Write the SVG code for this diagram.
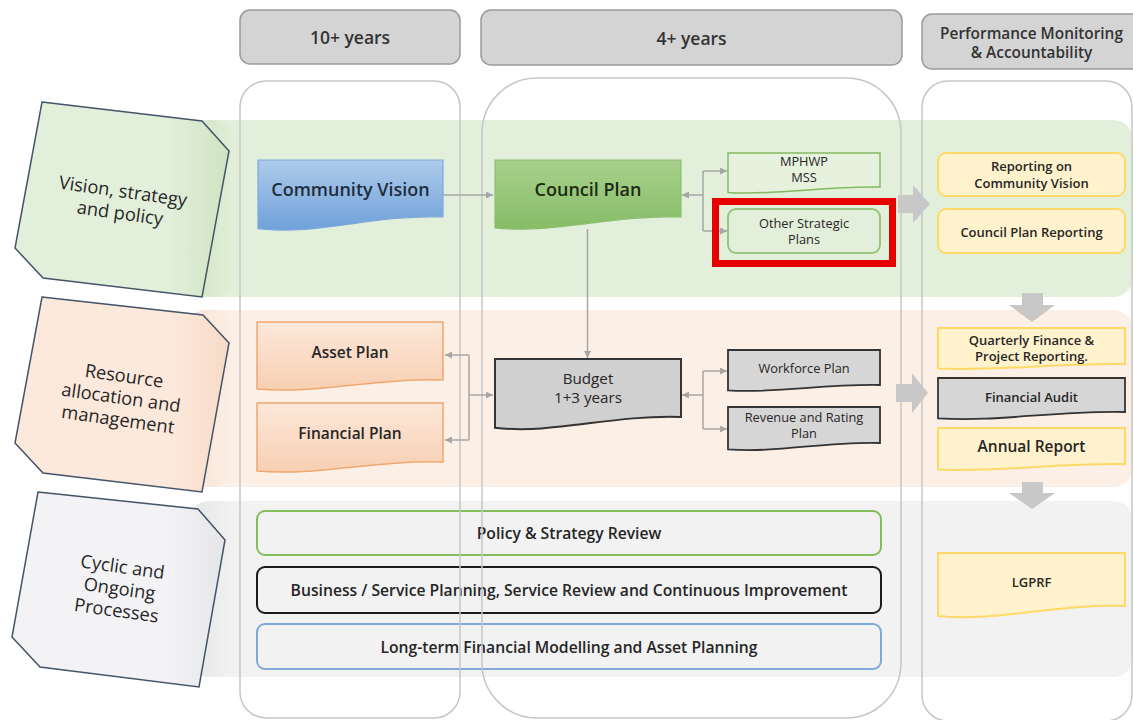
<svg xmlns="http://www.w3.org/2000/svg" width="1133" height="720" viewBox="0 0 1133 720">
<defs>
<style>
text{font-family:"Open Sans","Liberation Sans",sans-serif;fill:#262626;text-anchor:middle}
.hdr{fill:#d4d4d4;stroke:#9a9a9a;stroke-width:1.5}
.col{fill:none;stroke:#c6c6c6;stroke-width:1.5}
.lbl{stroke:#44546a;stroke-width:1.5}
.ltxt{font-size:18.3px;font-weight:400}
.htxt{font-size:17.5px;font-weight:600;fill:#333333}
.ptxt{font-size:15.4px;font-weight:600;fill:#333333}
.btxt{font-size:15.7px;font-weight:600}
.big{font-size:18px;font-weight:600}
.mid{font-size:15.5px;font-weight:600}
.sm{font-size:12.8px;font-weight:400}
.smb{font-size:13px;font-weight:600}
.yel{fill:#fff2cc;stroke:#ffd966;stroke-width:2}
.gry{fill:#d6d6d6;stroke:#333333;stroke-width:1.8}
.org{fill:url(#gOrg);stroke:#f0a870;stroke-width:1.5}
.conn{fill:none;stroke:#a6a6a6;stroke-width:1.5}
.bigarrow{fill:#c8c8c8}
</style>
<marker id="ah" viewBox="0 0 10 10" refX="10" refY="5" markerWidth="7" markerHeight="7" markerUnits="userSpaceOnUse" orient="auto"><path d="M0,0 L10,5 L0,10 z" fill="#a6a6a6"/></marker>
<linearGradient id="gCV" x1="0" y1="0" x2="0" y2="1"><stop offset="0" stop-color="#aecbeb"/><stop offset="1" stop-color="#6fa1d9"/></linearGradient>
<linearGradient id="gCP" x1="0" y1="0" x2="0" y2="1"><stop offset="0" stop-color="#a8d08d"/><stop offset="1" stop-color="#86bd66"/></linearGradient>
<linearGradient id="gOrg" x1="0" y1="0" x2="0" y2="1"><stop offset="0" stop-color="#fce8da"/><stop offset="1" stop-color="#f8cfb2"/></linearGradient>
<linearGradient id="gL1" x1="0" y1="0" x2="1" y2="0"><stop offset="0" stop-color="#e2efda"/><stop offset="0.72" stop-color="#e2efda"/><stop offset="1" stop-color="#cfe3c1"/></linearGradient>
<linearGradient id="gL2" x1="0" y1="0" x2="1" y2="0"><stop offset="0" stop-color="#fce9dc"/><stop offset="0.72" stop-color="#fce9dc"/><stop offset="1" stop-color="#f7dac6"/></linearGradient>
<linearGradient id="gL3" x1="0" y1="0" x2="1" y2="0"><stop offset="0" stop-color="#f3f3f5"/><stop offset="0.72" stop-color="#f3f3f5"/><stop offset="1" stop-color="#e6e6e8"/></linearGradient>
<linearGradient id="gB1" x1="0" y1="0" x2="1" y2="0"><stop offset="0" stop-color="#cfe3c1"/><stop offset="1" stop-color="#e2efda"/></linearGradient>
<linearGradient id="gB2" x1="0" y1="0" x2="1" y2="0"><stop offset="0" stop-color="#f7e2d4"/><stop offset="1" stop-color="#fcefe6"/></linearGradient>
<linearGradient id="gB3" x1="0" y1="0" x2="1" y2="0"><stop offset="0" stop-color="#e6e6e6"/><stop offset="1" stop-color="#f2f2f2"/></linearGradient>
</defs>
<rect width="1133" height="720" fill="#ffffff"/>

<g id="bands">
<rect x="187" y="120" width="946" height="177" rx="20" fill="#e2efda"/>
<rect x="187" y="120" width="48" height="177" rx="20" fill="url(#gB1)"/>
<rect x="186" y="310" width="947" height="177" rx="20" fill="#fcefe6"/>
<rect x="186" y="310" width="48" height="177" rx="20" fill="url(#gB2)"/>
<rect x="189" y="501" width="944" height="176" rx="20" fill="#f2f2f2"/>
<rect x="189" y="501" width="48" height="176" rx="20" fill="url(#gB3)"/>
</g>

<g id="headers">
<g id="h-10"><rect class="hdr" x="240" y="10" width="220" height="54" rx="10"/><text class="htxt" x="350" y="44">10+ years</text></g>
<g id="h-4"><rect class="hdr" x="481" y="10" width="421" height="55" rx="10"/><text class="htxt" x="691.5" y="45">4+ years</text></g>
<g id="h-perf"><rect class="hdr" x="922" y="14" width="230" height="55" rx="10"/><text class="ptxt" x="1031.5" y="38.5">Performance Monitoring</text><text class="ptxt" x="1031.5" y="57.5">&amp; Accountability</text></g>
</g>

<g id="lanes">
<g id="lane-vision">
<path class="lbl" fill="url(#gL1)" d="M42,102 L202,121 L229,151 L202,297 L43,278 L15,248 Z"/>
<g transform="translate(121.5,202) rotate(8)"><text class="ltxt" x="0" y="-4.5">Vision, strategy</text><text class="ltxt" x="0" y="17.5">and policy</text></g>
</g>
<g id="lane-resource">
<path class="lbl" fill="url(#gL2)" d="M42,297 L203,315 L229,343 L202,492 L43,473 L15,443 Z"/>
<g transform="translate(121,398) rotate(8)"><text class="ltxt" x="0" y="-16">Resource</text><text class="ltxt" x="0" y="6">allocation and</text><text class="ltxt" x="0" y="28">management</text></g>
</g>
<g id="lane-cyclic">
<path class="lbl" fill="url(#gL3)" d="M38,492 L198,509 L225,540 L199,687 L40,667 L12,637 Z"/>
<g transform="translate(119.5,589) rotate(8)"><text class="ltxt" x="0" y="-16">Cyclic and</text><text class="ltxt" x="0" y="6">Ongoing</text><text class="ltxt" x="0" y="28">Processes</text></g>
</g>
</g>

<g id="cyclic-processes">
<g id="policy-review"><rect x="257" y="511" width="624" height="44" rx="8" fill="none" stroke="#84bd5c" stroke-width="2"/><text class="btxt" x="569" y="538.5">Policy &amp; Strategy Review</text></g>
<g id="business-planning"><rect x="257" y="567" width="624" height="46" rx="8" fill="none" stroke="#1a1a1a" stroke-width="2"/><text class="btxt" x="569" y="595.5">Business / Service Planning, Service Review and Continuous Improvement</text></g>
<g id="longterm-modelling"><rect x="257" y="624" width="624" height="45" rx="8" fill="none" stroke="#7fa9d8" stroke-width="2"/><text class="btxt" x="569" y="652.5">Long-term Financial Modelling and Asset Planning</text></g>
</g>

<g id="columns">
<rect class="col" x="240" y="81" width="220" height="637" rx="26"/>
<rect class="col" x="482" y="78" width="419" height="640" rx="55"/>
<rect class="col" x="922" y="81" width="210" height="640" rx="26"/>
</g>

<g id="connectors">
<path class="conn" d="M443,195 H493" marker-end="url(#ah)"/>
<path class="conn" d="M703,195 H682" marker-end="url(#ah)"/>
<path class="conn" d="M703,171 V231"/>
<path class="conn" d="M703,171 H727" marker-end="url(#ah)"/>
<path class="conn" d="M703,231 H727" marker-end="url(#ah)"/>
<path class="conn" d="M587.5,229 V358" marker-end="url(#ah)"/>
<path class="conn" d="M469,355 V440"/>
<path class="conn" d="M469,355 H445" marker-end="url(#ah)"/>
<path class="conn" d="M469,440 H445" marker-end="url(#ah)"/>
<path class="conn" d="M469,395 H493" marker-end="url(#ah)"/>
<path class="conn" d="M703,395 H682" marker-end="url(#ah)"/>
<path class="conn" d="M703,371 V429"/>
<path class="conn" d="M703,371 H727" marker-end="url(#ah)"/>
<path class="conn" d="M703,429 H727" marker-end="url(#ah)"/>
<path class="bigarrow" d="M898,195 H913 V185 L930,204 L913,223 V213 H898 Z"/>
<path class="bigarrow" d="M896,384 H912 V373 L928,393 L912,413 V402 H896 Z"/>
<path class="bigarrow" d="M1022,293 H1043 V305 H1055 L1032,322 L1009,305 H1022 Z"/>
<path class="bigarrow" d="M1022,482 H1043 V493 H1055 L1032,509 L1009,493 H1022 Z"/>
</g>

<g id="community-vision"><path fill="url(#gCV)" stroke="#7ea9dc" stroke-width="1.2" d="M258,160 H443 V217 C372.7,214.4 317.2,235.9 258,228.7 Z"/><text class="big" x="350.5" y="195.5" style="fill:#1f2d3d">Community Vision</text></g>
<g id="council-plan"><path fill="url(#gCP)" stroke="#8dbe70" stroke-width="1.2" d="M495,160 H681 V217 C610.3,214.6 554.5,234.4 495,227.8 Z"/><text class="big" x="588" y="195.5" style="fill:#1e2a14">Council Plan</text></g>
<g id="mphwp"><path fill="#e6f1de" stroke="#84bb60" stroke-width="1.5" d="M728,153 H880 V187 C822.2,185.8 776.6,195.7 728,192.4 Z"/><text class="sm" x="804" y="166">MPHWP</text><text class="sm" x="804" y="182">MSS</text></g>
<g id="other-strategic"><rect x="728" y="209" width="152" height="44" rx="8" fill="#e2efda" stroke="#9ac57e" stroke-width="2"/><text class="sm" x="804" y="227.5">Other Strategic</text><text class="sm" x="804" y="243.5">Plans</text></g>
<rect id="highlight" x="715.5" y="201.5" width="177" height="62" fill="none" stroke="#e60000" stroke-width="7"/>

<g id="asset-plan"><path class="org" d="M257,322 H443 V380 C372.3,378 316.5,394.5 257,389 Z"/><text class="mid" x="350" y="357.5">Asset Plan</text></g>
<g id="financial-plan"><path class="org" d="M257,403 H443 V462 C372.3,460 316.5,476.5 257,471 Z"/><text class="mid" x="350" y="438.5">Financial Plan</text></g>
<g id="budget"><path fill="#d0d0d0" stroke="#333333" stroke-width="2" d="M495,359 H681 V417 C610.3,414.6 554.5,434.4 495,427.8 Z"/><text x="588" y="383.5" style="font-size:15.2px">Budget</text><text x="588" y="402.5" style="font-size:15.2px">1+3 years</text></g>
<g id="workforce-plan"><path class="gry" d="M728,350 H880 V385 C822.2,383.8 776.6,393.7 728,390.4 Z"/><text class="sm" x="804" y="372.5">Workforce Plan</text></g>
<g id="revenue-plan"><path class="gry" d="M728,407 H880 V443 C822.2,441.6 776.6,453.2 728,449.3 Z"/><text class="sm" x="804" y="421.5">Revenue and Rating</text><text class="sm" x="804" y="437.5">Plan</text></g>

<g id="reporting-cv"><rect class="yel" x="938" y="153" width="187" height="43" rx="8"/><text class="smb" x="1031.5" y="171">Reporting on</text><text class="smb" x="1031.5" y="187.5">Community Vision</text></g>
<g id="cp-reporting"><rect class="yel" x="938" y="209" width="187" height="44" rx="8"/><text class="smb" x="1031.5" y="236.5">Council Plan Reporting</text></g>
<g id="quarterly"><path class="yel" d="M938,328 H1125 V364 C1053.9,363 997.8,371.3 938,368.5 Z"/><text class="smb" x="1031.5" y="344.5">Quarterly Finance &amp;</text><text class="smb" x="1031.5" y="361">Project Reporting.</text></g>
<g id="financial-audit"><path class="gry" d="M938,378 H1125 V412 C1053.9,410.6 997.8,422.2 938,418.3 Z"/><text class="smb" x="1031.5" y="401.5">Financial Audit</text></g>
<g id="annual-report"><path class="yel" d="M938,428 H1125 V464 C1053.9,462.8 997.8,472.7 938,469.4 Z"/><text class="mid" x="1031.5" y="452">Annual Report</text></g>
<g id="lgprf"><path class="yel" d="M938,553 H1125 V606 C1053.9,603.8 997.8,622 938,615.9 Z"/><text class="smb" x="1031.5" y="586.5">LGPRF</text></g>
</svg>
